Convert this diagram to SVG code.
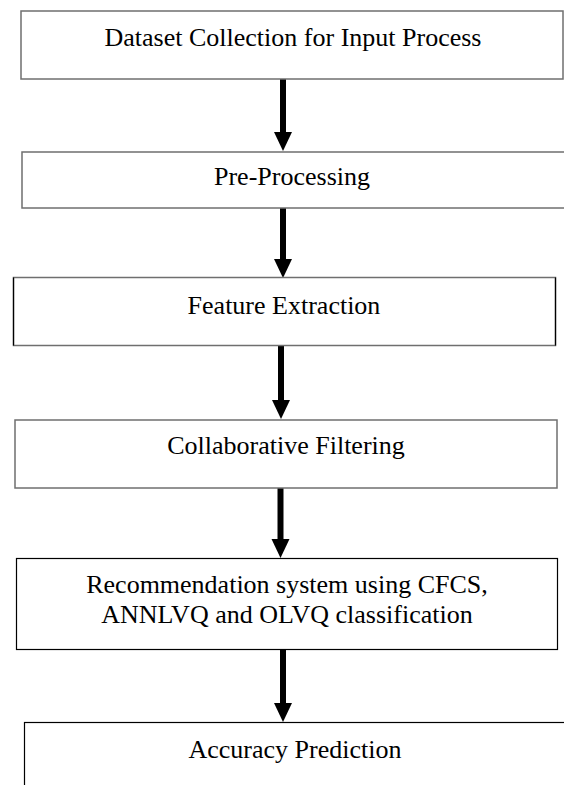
<svg xmlns="http://www.w3.org/2000/svg" width="564" height="785" viewBox="0 0 564 785">
  <style>
    .box { fill: #ffffff; }
    .gray { stroke: #6f6f6f; stroke-width: 1.5; }
    .dark { stroke: #000000; stroke-width: 1.2; }
    .label { font-family: "Liberation Serif", "Times New Roman", serif; font-size: 26px; fill: #000000; text-anchor: middle; }
    .flow { stroke: #000000; stroke-width: 6; fill: none; marker-end: url(#head); }
  </style>
  <defs>
    <marker id="head" markerUnits="userSpaceOnUse" markerWidth="20" markerHeight="19" refX="0" refY="9" orient="auto" overflow="visible">
      <path d="M0,0 L19,9 L0,18 Z" fill="#000000"/>
    </marker>
  </defs>
  <rect width="564" height="785" fill="#ffffff"/>

  <g id="connectors">
    <line class="flow" x1="283" y1="79" x2="283" y2="132"/>
    <line class="flow" x1="283" y1="208" x2="283" y2="259"/>
    <line class="flow" x1="281" y1="346" x2="281" y2="400"/>
    <line class="flow" x1="280.5" y1="488" x2="280.5" y2="539"/>
    <line class="flow" x1="283" y1="650" x2="283" y2="703"/>
  </g>

  <g id="dataset-collection">
    <rect class="box gray" x="21" y="11" width="542" height="68"/>
    <text class="label" x="293" y="46">Dataset Collection for Input Process</text>
  </g>

  <g id="pre-processing">
    <rect class="box gray" x="22" y="152" width="544" height="56"/>
    <text class="label" x="292" y="185">Pre-Processing</text>
  </g>

  <g id="feature-extraction">
    <rect class="box gray" x="13.5" y="277.5" width="542" height="68"/>
    <line class="dark" x1="13.5" y1="277.5" x2="13.5" y2="345.5"/>
    <line class="dark" x1="555.5" y1="277.5" x2="555.5" y2="345.5"/>
    <text class="label" x="284" y="314">Feature Extraction</text>
  </g>

  <g id="collaborative-filtering">
    <rect class="box gray" x="15" y="420" width="542" height="68"/>
    <text class="label" x="286" y="454">Collaborative Filtering</text>
  </g>

  <g id="recommendation-system">
    <rect class="box dark" x="16.5" y="558.5" width="541" height="91"/>
    <text class="label" x="287" y="593">Recommendation system using CFCS,</text>
    <text class="label" x="287" y="623">ANNLVQ and OLVQ classification</text>
  </g>

  <g id="accuracy-prediction">
    <rect class="box dark" x="24.5" y="722.5" width="545" height="80"/>
    <text class="label" x="295" y="758">Accuracy Prediction</text>
  </g>
</svg>
